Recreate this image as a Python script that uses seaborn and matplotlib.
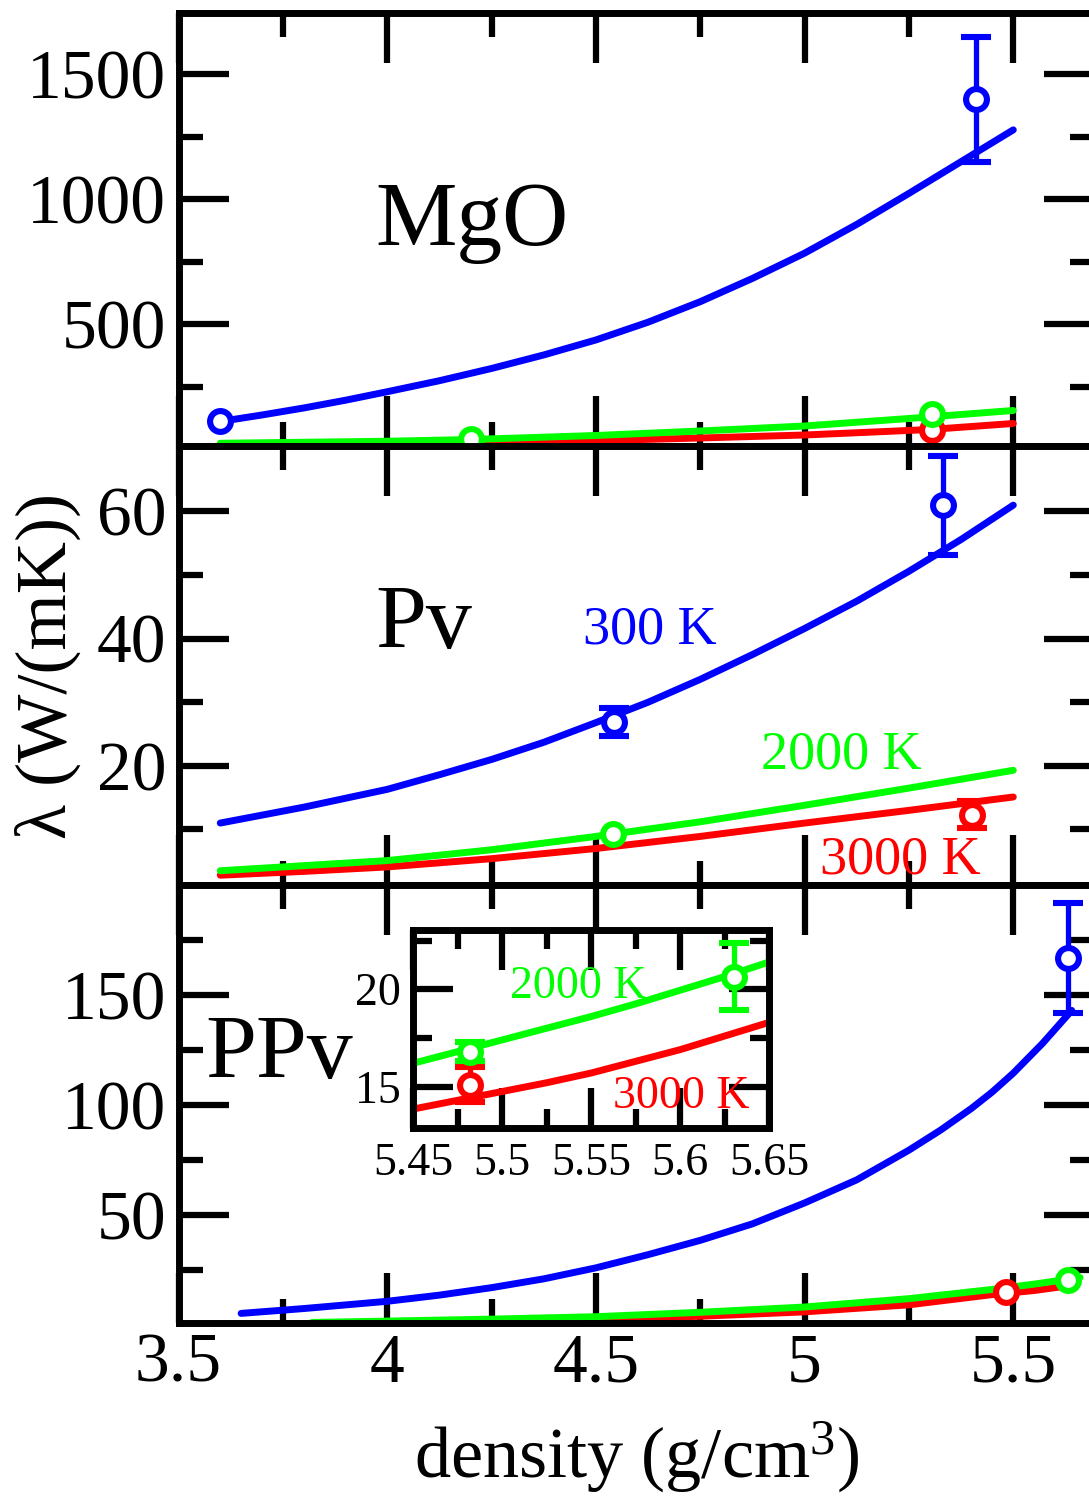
import matplotlib
matplotlib.use("Agg")
import matplotlib.pyplot as plt
from matplotlib.ticker import FixedLocator, FuncFormatter
import seaborn as sns

# ---- values ----
# MgO panel (top)
mgo_x_300 = [3.6, 3.7, 3.8, 3.9, 4.0, 4.125, 4.25, 4.375, 4.5, 4.625, 4.75, 4.875,
             5.0, 5.125, 5.25, 5.375, 5.5]
mgo_y_300 = [112, 138, 166, 197, 231, 275, 324, 378, 438, 509, 591, 684,
             785, 900, 1024, 1151, 1278]
mgo_x_2000 = [3.6, 4.0, 4.2, 4.5, 4.75, 5.0, 5.25, 5.5]
mgo_y_2000 = [25, 33, 40, 56, 74, 94, 124, 156]
mgo_x_3000 = [3.6, 4.0, 4.5, 4.75, 5.0, 5.18, 5.3, 5.5]
mgo_y_3000 = [16, 22, 35, 46, 58, 71, 80, 104]
mgo_pts_300 = ([3.6, 5.41], [112, 1400], [0, 250])
mgo_pts_2000 = ([4.2, 5.306], [40, 140], [0, 0])
mgo_pts_3000 = ([5.306], [78], [0])

# Pv panel (middle)
pv_x_300 = [3.6, 3.8, 4.0, 4.125, 4.25, 4.375, 4.5, 4.625, 4.75, 4.875, 5.0,
            5.125, 5.25, 5.375, 5.5]
pv_y_300 = [11.0, 13.5, 16.3, 18.6, 21.0, 23.7, 26.8, 30.0, 33.6, 37.5, 41.6,
            45.9, 50.6, 55.6, 61.0]
pv_x = [3.6, 3.8, 4.0, 4.25, 4.5, 4.75, 5.0, 5.25, 5.5]
pv_y_2000 = [3.5, 4.3, 5.1, 6.8, 8.9, 11.2, 13.8, 16.5, 19.3]
pv_y_3000 = [2.8, 3.4, 4.1, 5.4, 7.0, 8.9, 11.0, 13.0, 15.1]
pv_pts_300 = ([4.543, 5.331], [26.9, 61.0], [2.2, 7.8])
pv_pts_2000 = ([4.542], [9.3], [0])
pv_pts_3000 = ([5.401], [12.3], [2.1])

# PPv panel (bottom)
ppv_x_300 = [3.65, 3.8, 4.0, 4.125, 4.25, 4.375, 4.5, 4.625, 4.75, 4.875, 5.0,
             5.125, 5.25, 5.325, 5.4, 5.45, 5.5, 5.57, 5.64]
ppv_y_300 = [5.3, 7.5, 10.8, 13.6, 17.0, 21.0, 26.0, 32.0, 38.5, 46.0, 55.5,
             66.0, 79.5, 88.5, 98.5, 106.0, 114.5, 128.0, 143.0]
ppv_x_2000 = [3.82, 4.0, 4.25, 4.5, 4.75, 5.0, 5.25, 5.45, 5.55, 5.66]
ppv_y_2000 = [1.2, 1.8, 2.7, 3.8, 5.8, 8.2, 12.0, 16.2, 18.6, 21.6]
ppv_x_3000 = [4.0, 4.25, 4.5, 4.75, 5.0, 5.25, 5.45, 5.55, 5.65]
ppv_y_3000 = [1.0, 1.7, 2.6, 4.0, 6.0, 9.2, 13.85, 15.7, 18.3]
ppv_pts_300 = ([5.63], [167], [25])
ppv_pts_2000 = ([5.63], [20.65], [0])
ppv_pts_3000 = ([5.482], [15.09], [0])

# PPv inset
ins_x = [5.45, 5.475, 5.5, 5.525, 5.55, 5.575, 5.6, 5.625, 5.65]
ins_y_2000 = [16.2, 16.8, 17.4, 18.0, 18.6, 19.25, 19.95, 20.65, 21.4]
ins_y_3000 = [13.85, 14.3, 14.75, 15.2, 15.7, 16.3, 16.9, 17.6, 18.3]
ins_pts_2000 = ([5.482, 5.630], [16.8, 20.65], [0.5, 1.7])
ins_pts_3000 = ([5.482], [15.09], [0.9])

x_major = [3.5, 4.0, 4.5, 5.0, 5.5]
x_minor = [3.75, 4.25, 4.75, 5.25]

BLUE, GREEN, RED = "#0000ff", "#00ff00", "#ff0000"

sns.set_theme(style="ticks", rc={"axes.edgecolor": "black", "xtick.color": "black",
                                 "ytick.color": "black", "text.color": "black"})
plt.rcParams["font.family"] = ["Liberation Serif", "DejaVu Serif"]
plt.rcParams["mathtext.fontset"] = "custom"
plt.rcParams["mathtext.rm"] = "Liberation Serif"
plt.rcParams["mathtext.it"] = "Liberation Serif:italic"

W, H = 1089, 1497
fig = plt.figure(figsize=(W / 100, H / 100), dpi=100)

left, right = 178.5, 1094
xmin = 3.5
xmax = 3.5 + (right - left) / 417.4


def box(top, bottom):
    return [left / W, 1 - bottom / H, (right - left) / W, (bottom - top) / H]


ax1 = fig.add_axes(box(13.3, 446))
ax2 = fig.add_axes(box(446, 885))
ax3 = fig.add_axes(box(885, 1323.3))

fmt = FuncFormatter(lambda v, p: "%g" % v)


def curve(ax, x, y, color, lw=5):
    sns.lineplot(x=x, y=y, ax=ax, color=color, linewidth=lw, sort=False, estimator=None)


def points(ax, pts, color):
    for xi, yi, ei in zip(*pts):
        ax.errorbar(xi, yi, yerr=ei if ei else None, fmt="o", color=color,
                    mfc="white", mec=color, ms=15, mew=4.4, elinewidth=3.8,
                    capsize=10.5, capthick=3.8, zorder=5)


def style(ax, ylim, ymaj, ymin, ticklength=(36, 17), size=50):
    ax.set_ylim(*ylim)
    ax.yaxis.set_major_locator(FixedLocator(ymaj))
    ax.yaxis.set_minor_locator(FixedLocator(ymin))
    ax.yaxis.set_major_formatter(fmt)
    ax.tick_params(which="both", direction="in", top=True, right=True, width=4.5)
    ax.tick_params(which="major", length=ticklength[0])
    ax.tick_params(which="minor", length=ticklength[1])
    ax.tick_params(axis="y", labelsize=size, pad=9)
    ax.tick_params(axis="x", labelsize=size, pad=7)
    for s in ax.spines.values():
        s.set_linewidth(5)
        s.set_color("black")
    ax.set_xlabel("")
    ax.set_ylabel("")


for ax in (ax1, ax2, ax3):
    ax.set_xlim(xmin, xmax)
    ax.xaxis.set_major_locator(FixedLocator(x_major))
    ax.xaxis.set_minor_locator(FixedLocator(x_minor))
    ax.xaxis.set_major_formatter(fmt)

# top: MgO
curve(ax1, mgo_x_3000, mgo_y_3000, RED)
curve(ax1, mgo_x_2000, mgo_y_2000, GREEN)
curve(ax1, mgo_x_300, mgo_y_300, BLUE)
points(ax1, mgo_pts_3000, RED)
points(ax1, mgo_pts_2000, GREEN)
points(ax1, mgo_pts_300, BLUE)
style(ax1, (14, 1744), [500, 1000, 1500], [250, 750, 1250])
ax1.tick_params(axis="x", labelbottom=False)
ax1.text(3.971, 818, "MgO", fontsize=66, ha="left", va="baseline")

# middle: Pv
curve(ax2, pv_x, pv_y_3000, RED)
curve(ax2, pv_x, pv_y_2000, GREEN)
curve(ax2, pv_x_300, pv_y_300, BLUE)
points(ax2, pv_pts_3000, RED)
points(ax2, pv_pts_2000, GREEN)
points(ax2, pv_pts_300, BLUE)
style(ax2, (1.26, 70.3), [20, 40, 60], [10, 30, 50])
ax2.tick_params(axis="x", labelbottom=False)
ax2.text(3.971, 38.5, "Pv", fontsize=66, ha="left", va="baseline")
ax2.text(4.469, 39.2, "300 K", fontsize=39, color=BLUE, ha="left", va="baseline")
ax2.text(4.895, 19.65, "2000 K", fontsize=39, color=GREEN, ha="left", va="baseline")
ax2.text(5.036, 3.14, "3000 K", fontsize=39, color=RED, ha="left", va="baseline")

# bottom: PPv
curve(ax3, ppv_x_3000, ppv_y_3000, RED)
curve(ax3, ppv_x_2000, ppv_y_2000, GREEN)
curve(ax3, ppv_x_300, ppv_y_300, BLUE)
points(ax3, ppv_pts_3000, RED)
points(ax3, ppv_pts_2000, GREEN)
points(ax3, ppv_pts_300, BLUE)
style(ax3, (0.8, 200), [50, 100, 150], [25, 75, 125, 175])
ax3.text(3.564, 112.3, "PPv", fontsize=66, ha="left", va="baseline")

# inset
axi = fig.add_axes([413.3 / W, 1 - 1128.3 / H, (769.3 - 413.3) / W, (1128.3 - 930) / H])
axi.set_facecolor("white")
curve(axi, ins_x, ins_y_3000, RED)
curve(axi, ins_x, ins_y_2000, GREEN)
points(axi, ins_pts_3000, RED)
points(axi, ins_pts_2000, GREEN)
axi.set_xlim(5.45, 5.65)
axi.xaxis.set_major_locator(FixedLocator([5.45, 5.5, 5.55, 5.6, 5.65]))
axi.xaxis.set_minor_locator(FixedLocator([5.475, 5.525, 5.575, 5.625]))
axi.xaxis.set_major_formatter(fmt)
style(axi, (12.86, 23.04), [15, 20], [17.5, 22.5], ticklength=(29, 14), size=33)
axi.tick_params(axis="x", pad=10)
axi.text(5.5043, 19.55, "2000 K", fontsize=33, color=GREEN, ha="left", va="baseline")
axi.text(5.5622, 13.91, "3000 K", fontsize=33, color=RED, ha="left", va="baseline")

fig.text(47.5 / W, 1 - 666 / H, "λ (W/(mK))", rotation=90, ha="center", va="center",
         fontsize=52)
fig.text(637 / W, 1 - 1478 / H, "density (g/cm$^{3}$)", ha="center", va="baseline",
         fontsize=52)

fig.savefig("out.png", dpi=100)
